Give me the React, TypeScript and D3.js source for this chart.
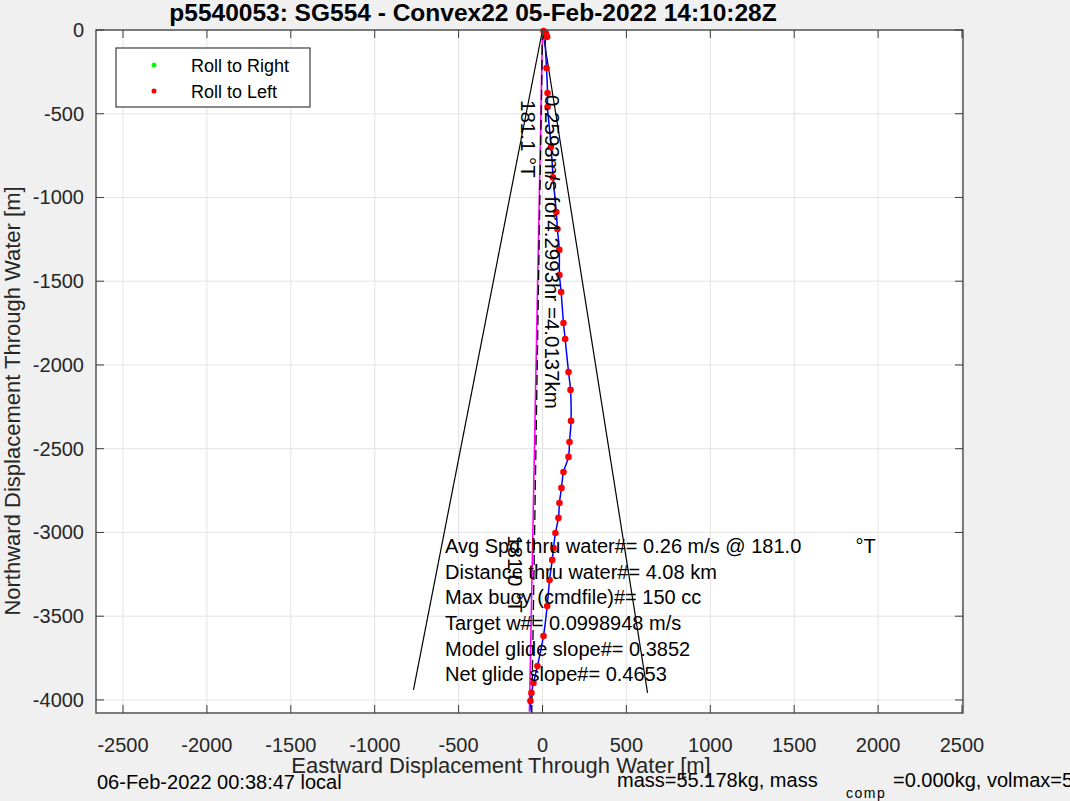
import { useEffect, useRef } from "react";
import * as d3 from "d3";

// glider track through water (east, north) in metres
const trackEast = [0, 24, 30, 18, 18, 24, 30, 30, 48, 66, 82, 89, 100, 101, 111, 125, 135, 155, 167, 170, 161, 155, 125, 113, 101, 95, 77, 66, 58, 42, 28, 6, -30, -54, -66, -72, -66];
const trackNorth = [0, -12, -36, -60, -119, -227, -376, -460, -657, -913, -1087, -1188, -1313, -1463, -1564, -1749, -1845, -2042, -2149, -2334, -2460, -2549, -2639, -2734, -2824, -2913, -3003, -3093, -3164, -3284, -3439, -3618, -3797, -3899, -3958, -4006, -4072];

// roll-to-left samples (red); roll-to-right (green) has none visible
const rollLeftEast = [6, 20, 28, 24, 30, 30, 50, 62, 82, 89, 100, 101, 111, 125, 135, 155, 167, 170, 161, 155, 125, 113, 101, 95, 77, 66, 58, 42, 28, 6, -30, -54, -66, -72];
const rollLeftNorth = [-6, -20, -40, -227, -376, -460, -700, -880, -1087, -1188, -1313, -1463, -1564, -1749, -1845, -2042, -2149, -2334, -2460, -2549, -2639, -2734, -2824, -2913, -3003, -3093, -3164, -3284, -3439, -3618, -3797, -3899, -3958, -4006];

// straight-line references
const headingLine = { east: [0, -78], north: [0, -4070] };
const avgLine = { east: [0, -64], north: [0, -4078] };
const coneLeft = { east: [0, -769], north: [0, -3940] };
const coneRight = { east: [0, 626], north: [0, -3958] };

const xTicks = [-2500, -2000, -1500, -1000, -500, 0, 500, 1000, 1500, 2000, 2500];
const yTicks = [0, -500, -1000, -1500, -2000, -2500, -3000, -3500, -4000];

const infoLines = [
  "Avg Spd thru water#=  0.26 m/s @ 181.0",
  "Distance thru water#=  4.08 km",
  "Max buoy (cmdfile)#= 150 cc",
  "Target w#= 0.0998948 m/s",
  "Model glide slope#= 0.3852",
  "Net glide slope#= 0.4653",
];

const FONT = "'Liberation Sans', Arial, Helvetica, sans-serif";

export default function App() {
  const svgRef = useRef<SVGSVGElement | null>(null);

  useEffect(() => {
    const W = 1070;
    const H = 801;
    const svg = d3.select(svgRef.current).attr("width", W).attr("height", H);
    svg.selectAll("*").remove();

    const left = 96, right = 963, top = 30, bottom = 713;
    const x = d3.scaleLinear().domain([-2661, 2506]).range([left, right]);
    const y = d3.scaleLinear().domain([-4078, 0]).range([bottom, top]);

    svg.append("rect").attr("width", W).attr("height", H).attr("fill", "#f0f0f0");
    svg.append("rect")
      .attr("x", left).attr("y", top)
      .attr("width", right - left).attr("height", bottom - top)
      .attr("fill", "#ffffff");

    // grid
    svg.append("g").selectAll("line").data(xTicks).enter().append("line")
      .attr("x1", d => x(d)).attr("x2", d => x(d))
      .attr("y1", top).attr("y2", bottom)
      .attr("stroke", "#e3e3e3").attr("stroke-width", 1);
    svg.append("g").selectAll("line").data(yTicks).enter().append("line")
      .attr("y1", d => y(d)).attr("y2", d => y(d))
      .attr("x1", left).attr("x2", right)
      .attr("stroke", "#e3e3e3").attr("stroke-width", 1);

    const plot = svg.append("g");
    const seg = (l: { east: number[]; north: number[] }) =>
      d3.line<number>().x(i => x(l.east[i])).y(i => y(l.north[i]))([0, 1]);

    plot.append("path").attr("d", seg(coneLeft)).attr("stroke", "#000").attr("stroke-width", 1.2).attr("fill", "none");
    plot.append("path").attr("d", seg(coneRight)).attr("stroke", "#000").attr("stroke-width", 1.2).attr("fill", "none");
    plot.append("path").attr("d", seg(headingLine)).attr("stroke", "#ff00ff").attr("stroke-width", 1.6).attr("fill", "none");
    plot.append("path").attr("d", seg(avgLine)).attr("stroke", "#000").attr("stroke-width", 1.3)
      .attr("stroke-dasharray", "10,5").attr("fill", "none");

    // track
    const trackLine = d3.line<number>()
      .x(i => x(trackEast[i]))
      .y(i => y(trackNorth[i]))
      .curve(d3.curveCatmullRom);
    plot.append("path").attr("d", trackLine(d3.range(trackEast.length)))
      .attr("stroke", "#0000ff").attr("stroke-width", 1.5).attr("fill", "none");

    plot.selectAll(".left-dot").data(d3.range(rollLeftEast.length)).enter().append("circle")
      .attr("cx", i => x(rollLeftEast[i])).attr("cy", i => y(rollLeftNorth[i]))
      .attr("r", 3.3).attr("fill", "#ff0000");

    // rotated annotations
    const rot = (ex: number, ny: number, str: string) =>
      plot.append("text")
        .attr("transform", `translate(${x(ex)},${y(ny)}) rotate(90)`)
        .attr("font-family", FONT).attr("font-size", 20.5).attr("fill", "#000")
        .attr("xml:space", "preserve").style("white-space", "pre")
        .text(str);
    rot(12, -388, "0.2593m/s for4.2993hr =4.0137km");
    rot(-126, -418, "181.1 °T");
    rot(-205, -3016, "181.0 °T");

    // info block
    const info = plot.append("g").attr("font-family", FONT).attr("font-size", 20).attr("fill", "#000")
      .attr("xml:space", "preserve").style("white-space", "pre");
    infoLines.forEach((s, i) => {
      info.append("text").attr("x", x(-581)).attr("y", y(-3122) + i * 25.7).text(s);
    });
    info.append("text").attr("x", x(1865)).attr("y", y(-3122)).text("°T");

    // axes box and ticks
    const axisColor = "#3c3c3c";
    svg.append("rect").attr("x", left).attr("y", top)
      .attr("width", right - left).attr("height", bottom - top)
      .attr("fill", "none").attr("stroke", axisColor).attr("stroke-width", 1.3);
    const tk = 8;
    xTicks.forEach(t => {
      svg.append("line").attr("x1", x(t)).attr("x2", x(t)).attr("y1", bottom).attr("y2", bottom - tk).attr("stroke", axisColor);
      svg.append("line").attr("x1", x(t)).attr("x2", x(t)).attr("y1", top).attr("y2", top + tk).attr("stroke", axisColor);
      svg.append("text").attr("x", x(t)).attr("y", 752).attr("text-anchor", "middle")
        .attr("font-family", FONT).attr("font-size", 20).attr("fill", "#262626").text(t);
    });
    yTicks.forEach(t => {
      svg.append("line").attr("y1", y(t)).attr("y2", y(t)).attr("x1", left).attr("x2", left + tk).attr("stroke", axisColor);
      svg.append("line").attr("y1", y(t)).attr("y2", y(t)).attr("x1", right).attr("x2", right - tk).attr("stroke", axisColor);
      svg.append("text").attr("x", 84).attr("y", y(t)).attr("dy", "0.35em").attr("text-anchor", "end")
        .attr("font-family", FONT).attr("font-size", 20).attr("fill", "#262626").text(t);
    });

    // labels
    svg.append("text").attr("x", 473).attr("y", 21).attr("text-anchor", "middle")
      .attr("font-family", FONT).attr("font-size", 24.5).attr("font-weight", "bold").attr("fill", "#000")
      .text("p5540053: SG554 - Convex22 05-Feb-2022 14:10:28Z");
    svg.append("text").attr("x", 501).attr("y", 773).attr("text-anchor", "middle")
      .attr("font-family", FONT).attr("font-size", 22).attr("fill", "#262626")
      .text("Eastward Displacement Through Water [m]");
    svg.append("text").attr("transform", "translate(20,401) rotate(-90)").attr("text-anchor", "middle")
      .attr("font-family", FONT).attr("font-size", 22).attr("fill", "#262626")
      .text("Northward Displacement Through Water [m]");

    // footer
    const foot = svg.append("g").attr("font-family", FONT).attr("font-size", 20).attr("fill", "#000");
    foot.append("text").attr("x", 97).attr("y", 789).text("06-Feb-2022 00:38:47 local");
    foot.append("text").attr("x", 617).attr("y", 787).text("mass=55.178kg, mass");
    foot.append("text").attr("x", 846).attr("y", 798).attr("font-size", 14).attr("letter-spacing", 1.5).text("comp");
    foot.append("text").attr("x", 893).attr("y", 787).text("=0.000kg, volmax=50436cc");

    // legend
    const lg = svg.append("g");
    lg.append("rect").attr("x", 116).attr("y", 48).attr("width", 194).attr("height", 59)
      .attr("fill", "#fff").attr("stroke", axisColor).attr("stroke-width", 1.2);
    lg.append("circle").attr("cx", 154).attr("cy", 65).attr("r", 2.5).attr("fill", "#00ff00");
    lg.append("circle").attr("cx", 154).attr("cy", 91).attr("r", 2.5).attr("fill", "#ff0000");
    lg.append("text").attr("x", 191).attr("y", 72).attr("font-family", FONT).attr("font-size", 18).text("Roll to Right");
    lg.append("text").attr("x", 191).attr("y", 98).attr("font-family", FONT).attr("font-size", 18).text("Roll to Left");
  }, []);

  return <svg ref={svgRef} style={{ position: "absolute", left: 0, top: 0, display: "block" }} />;
}
